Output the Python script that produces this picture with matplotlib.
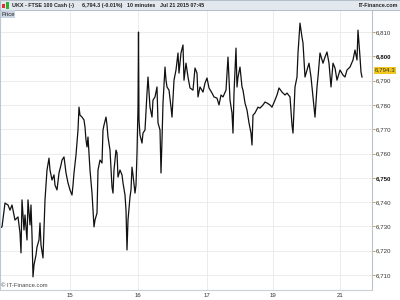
import matplotlib
matplotlib.use("Agg")
import matplotlib.pyplot as plt
from matplotlib.patches import Rectangle

plt.rcParams['font.family'] = ['Liberation Sans', 'DejaVu Sans']

# 10 minute bars, UKX FTSE 100 cash, Jul 14 - Jul 21 2015
bar = [0, 4, 10, 16, 20, 24, 30, 36, 40, 42,
       44, 48, 50, 54, 56, 60, 62, 64, 66, 68,
       72, 74, 78, 80, 82, 86, 88, 90, 94, 98,
       100, 104, 108, 110, 114, 118, 122, 124, 128, 130,
       132, 136, 140, 144, 146, 148, 152, 154, 156, 158,
       160, 164, 168, 170, 172, 174, 176, 180, 184, 186,
       188, 190, 194, 196, 200, 204, 206, 208, 212, 214,
       216, 220, 224, 226, 228, 232, 234, 236, 240, 244,
       246, 250, 252, 254, 256, 260, 262, 264, 266, 270,
       272, 274, 276, 277, 278, 280, 284, 286, 290, 294,
       296, 300, 304, 306, 310, 314, 316, 320, 322, 324,
       326, 330, 332, 334, 338, 342, 344, 348, 352, 356,
       358, 362, 366, 368, 372, 376, 380, 386, 390, 394,
       396, 400, 406, 410, 414, 418, 424, 428, 434, 438,
       442, 446, 452, 454, 456, 460, 464, 466, 468, 472,
       474, 476, 480, 484, 486, 490, 494, 498, 502, 504,
       506, 510, 516, 520, 526, 530, 534, 540, 544, 550,
       554, 558, 564, 570, 574, 580, 584, 586, 590, 594,
       596, 600, 604, 606, 610, 614, 618, 622, 626, 630,
       634, 636, 640, 646, 650, 654, 658, 662, 666, 670,
       674, 680, 686, 690, 694, 700, 706, 710, 714, 716,
       720, 722, 724]

price = [6729.3, 6729.8, 6739.6, 6738.8, 6736.7, 6738.8, 6732.6, 6733.9, 6727.3, 6719.1,
         6740.9, 6728.5, 6734.7, 6724.4, 6740.9, 6730.6, 6738.8, 6726.5, 6709.2, 6714.1,
         6718.2, 6721.5, 6724.4, 6731.4, 6722.3, 6717.0, 6728.5, 6740.9, 6753.2, 6758.1,
         6753.2, 6749.1, 6751.2, 6747.0, 6745.0, 6752.0, 6755.3, 6757.3, 6758.6, 6755.3,
         6752.0, 6747.9, 6745.0, 6742.9, 6747.0, 6752.0, 6759.4, 6764.3, 6769.7, 6779.1,
         6775.8, 6775.0, 6773.8, 6770.9, 6765.6, 6762.7, 6766.8, 6753.2, 6743.7, 6736.7,
         6729.8, 6732.6, 6735.5, 6753.2, 6757.3, 6756.1, 6769.7, 6771.7, 6775.0, 6771.7,
         6766.8, 6761.4, 6746.2, 6743.7, 6753.2, 6761.4, 6760.2, 6750.3, 6753.2, 6751.2,
         6747.9, 6742.9, 6736.7, 6720.3, 6732.6, 6742.1, 6745.0, 6754.4, 6751.2, 6743.7,
         6747.0, 6760.2, 6779.1, 6810.0, 6773.8, 6767.6, 6764.3, 6768.4, 6769.7, 6784.9,
         6791.5, 6779.1, 6775.0, 6782.0, 6783.3, 6787.4, 6772.6, 6769.7, 6752.0, 6765.6,
         6780.8, 6795.6, 6790.2, 6787.4, 6786.1, 6779.1, 6775.0, 6790.2, 6794.4, 6801.4,
         6793.1, 6801.4, 6804.7, 6790.2, 6797.2, 6791.5, 6787.0, 6786.1, 6795.2, 6793.1,
         6783.3, 6787.4, 6785.3, 6789.0, 6791.1, 6787.0, 6784.9, 6783.3, 6782.8, 6780.0,
         6784.1, 6783.3, 6786.1, 6793.1, 6799.7, 6782.0, 6776.7, 6768.4, 6784.9, 6803.4,
         6787.4, 6791.5, 6795.6, 6787.4, 6786.1, 6780.8, 6777.9, 6772.6, 6768.4, 6763.5,
         6775.8, 6776.7, 6779.1, 6778.7, 6780.0, 6781.2, 6780.8, 6780.0, 6779.1, 6782.0,
         6784.1, 6787.0, 6785.3, 6784.1, 6784.9, 6783.3, 6771.7, 6768.4, 6787.4, 6791.5,
         6801.4, 6813.7, 6807.9, 6805.5, 6791.5, 6794.4, 6797.2, 6791.5, 6783.3, 6775.0,
         6787.4, 6791.5, 6801.4, 6797.2, 6799.7, 6801.8, 6797.2, 6787.4, 6797.2, 6795.2,
         6790.2, 6794.4, 6792.3, 6791.5, 6794.4, 6795.6, 6798.5, 6802.6, 6798.5, 6810.8,
         6799.7, 6793.5, 6791.5]

last_price = 6794.3
day_ticks = [140, 276, 414, 546, 680]
day_labels = ['15', '16', '17', '19', '21']
price_ticks = [6710, 6720, 6730, 6740, 6750, 6760, 6770, 6780, 6790, 6800, 6810]

fig = plt.figure(figsize=(4, 3), dpi=100)
fig.patch.set_facecolor('white')

# plot area
ax = fig.add_axes([0.0, 10/300, 372/400, 280/300])
ax.plot(bar, price, color='#111111', lw=0.9)
ax.set_xlim(0, 744)
ax.set_ylim(6703.8, 6819.1)

ax.set_yticks(price_ticks)
ax.set_yticklabels([f'{v:,}' for v in price_ticks])
ax.yaxis.tick_right()
ax.tick_params(axis='y', length=2, width=0.6, color='#d08a3a', pad=1,
               labelsize=4.4, labelcolor='#333333')
for lbl, v in zip(ax.get_yticklabels(), price_ticks):
    if v in (6800, 6750):
        lbl.set_fontweight('bold')
        lbl.set_color('#111111')

ax.set_xticks(day_ticks)
ax.set_xticklabels(day_labels)
ax.tick_params(axis='x', length=0, pad=2, labelsize=4.4, labelcolor='#333333')

ax.grid(True, color='#e9e9e9', lw=0.6)
ax.set_axisbelow(True)
ax.spines['top'].set_visible(False)
ax.spines['right'].set_color('#b8c2cc')
ax.spines['left'].set_color('#b8c8d8')
ax.spines['bottom'].set_color('#c8d0d8')
for s in ['right', 'left', 'bottom']:
    ax.spines[s].set_linewidth(0.8)

# last price flag
ax.annotate(f'{last_price:,.1f}', xy=(1.0, last_price), xycoords=('axes fraction', 'data'),
            xytext=(2, 0), textcoords='offset points', va='center', ha='left',
            fontsize=4.4, color='#333333',
            bbox=dict(boxstyle='square,pad=0.15', fc='#f2c81e', ec='none'))

ax.text(0.004, 0.008, '\u00a9 IT-Finance.com', transform=ax.transAxes,
        fontsize=4.2, color='#444444', va='bottom', ha='left')

# header bar
fig.patches.append(Rectangle((0, 1 - 10/300), 1, 10/300, transform=fig.transFigure,
                             fc='#e3e8ee', ec='#aab6c2', lw=0.6))
fig.patches.append(Rectangle((2/400, 1 - 8/300), 3/400, 4/300, transform=fig.transFigure,
                             fc='#e03030', ec='none'))
fig.patches.append(Rectangle((6/400, 1 - 8.5/300), 3/400, 6/300, transform=fig.transFigure,
                             fc='#30b030', ec='none'))
hy = 1 - 5.2/300
head = dict(fontsize=3.9, fontweight='bold', color='#222222', va='center')
fig.text(12/400, hy, 'UKX - FTSE 100 Cash (-)', **head)
fig.text(82/400, hy, '6,794.3 (-0.01%)', **head)
fig.text(127/400, hy, '10 minutes', **head)
fig.text(160/400, hy, 'Jul 21 2015 07:45', **head)
fig.text(398/400, hy, 'IT-Finance.com', ha='right', **head)

# "Price" tab
fig.patches.append(Rectangle((1/400, 1 - 18/300), 14/400, 8/300, transform=fig.transFigure,
                             fc='#c9d5e2', ec='none'))
fig.text(2/400, 1 - 14/300, 'Price', fontsize=4.2, color='#222222', va='center')

fig.savefig('out.png', dpi=100)
